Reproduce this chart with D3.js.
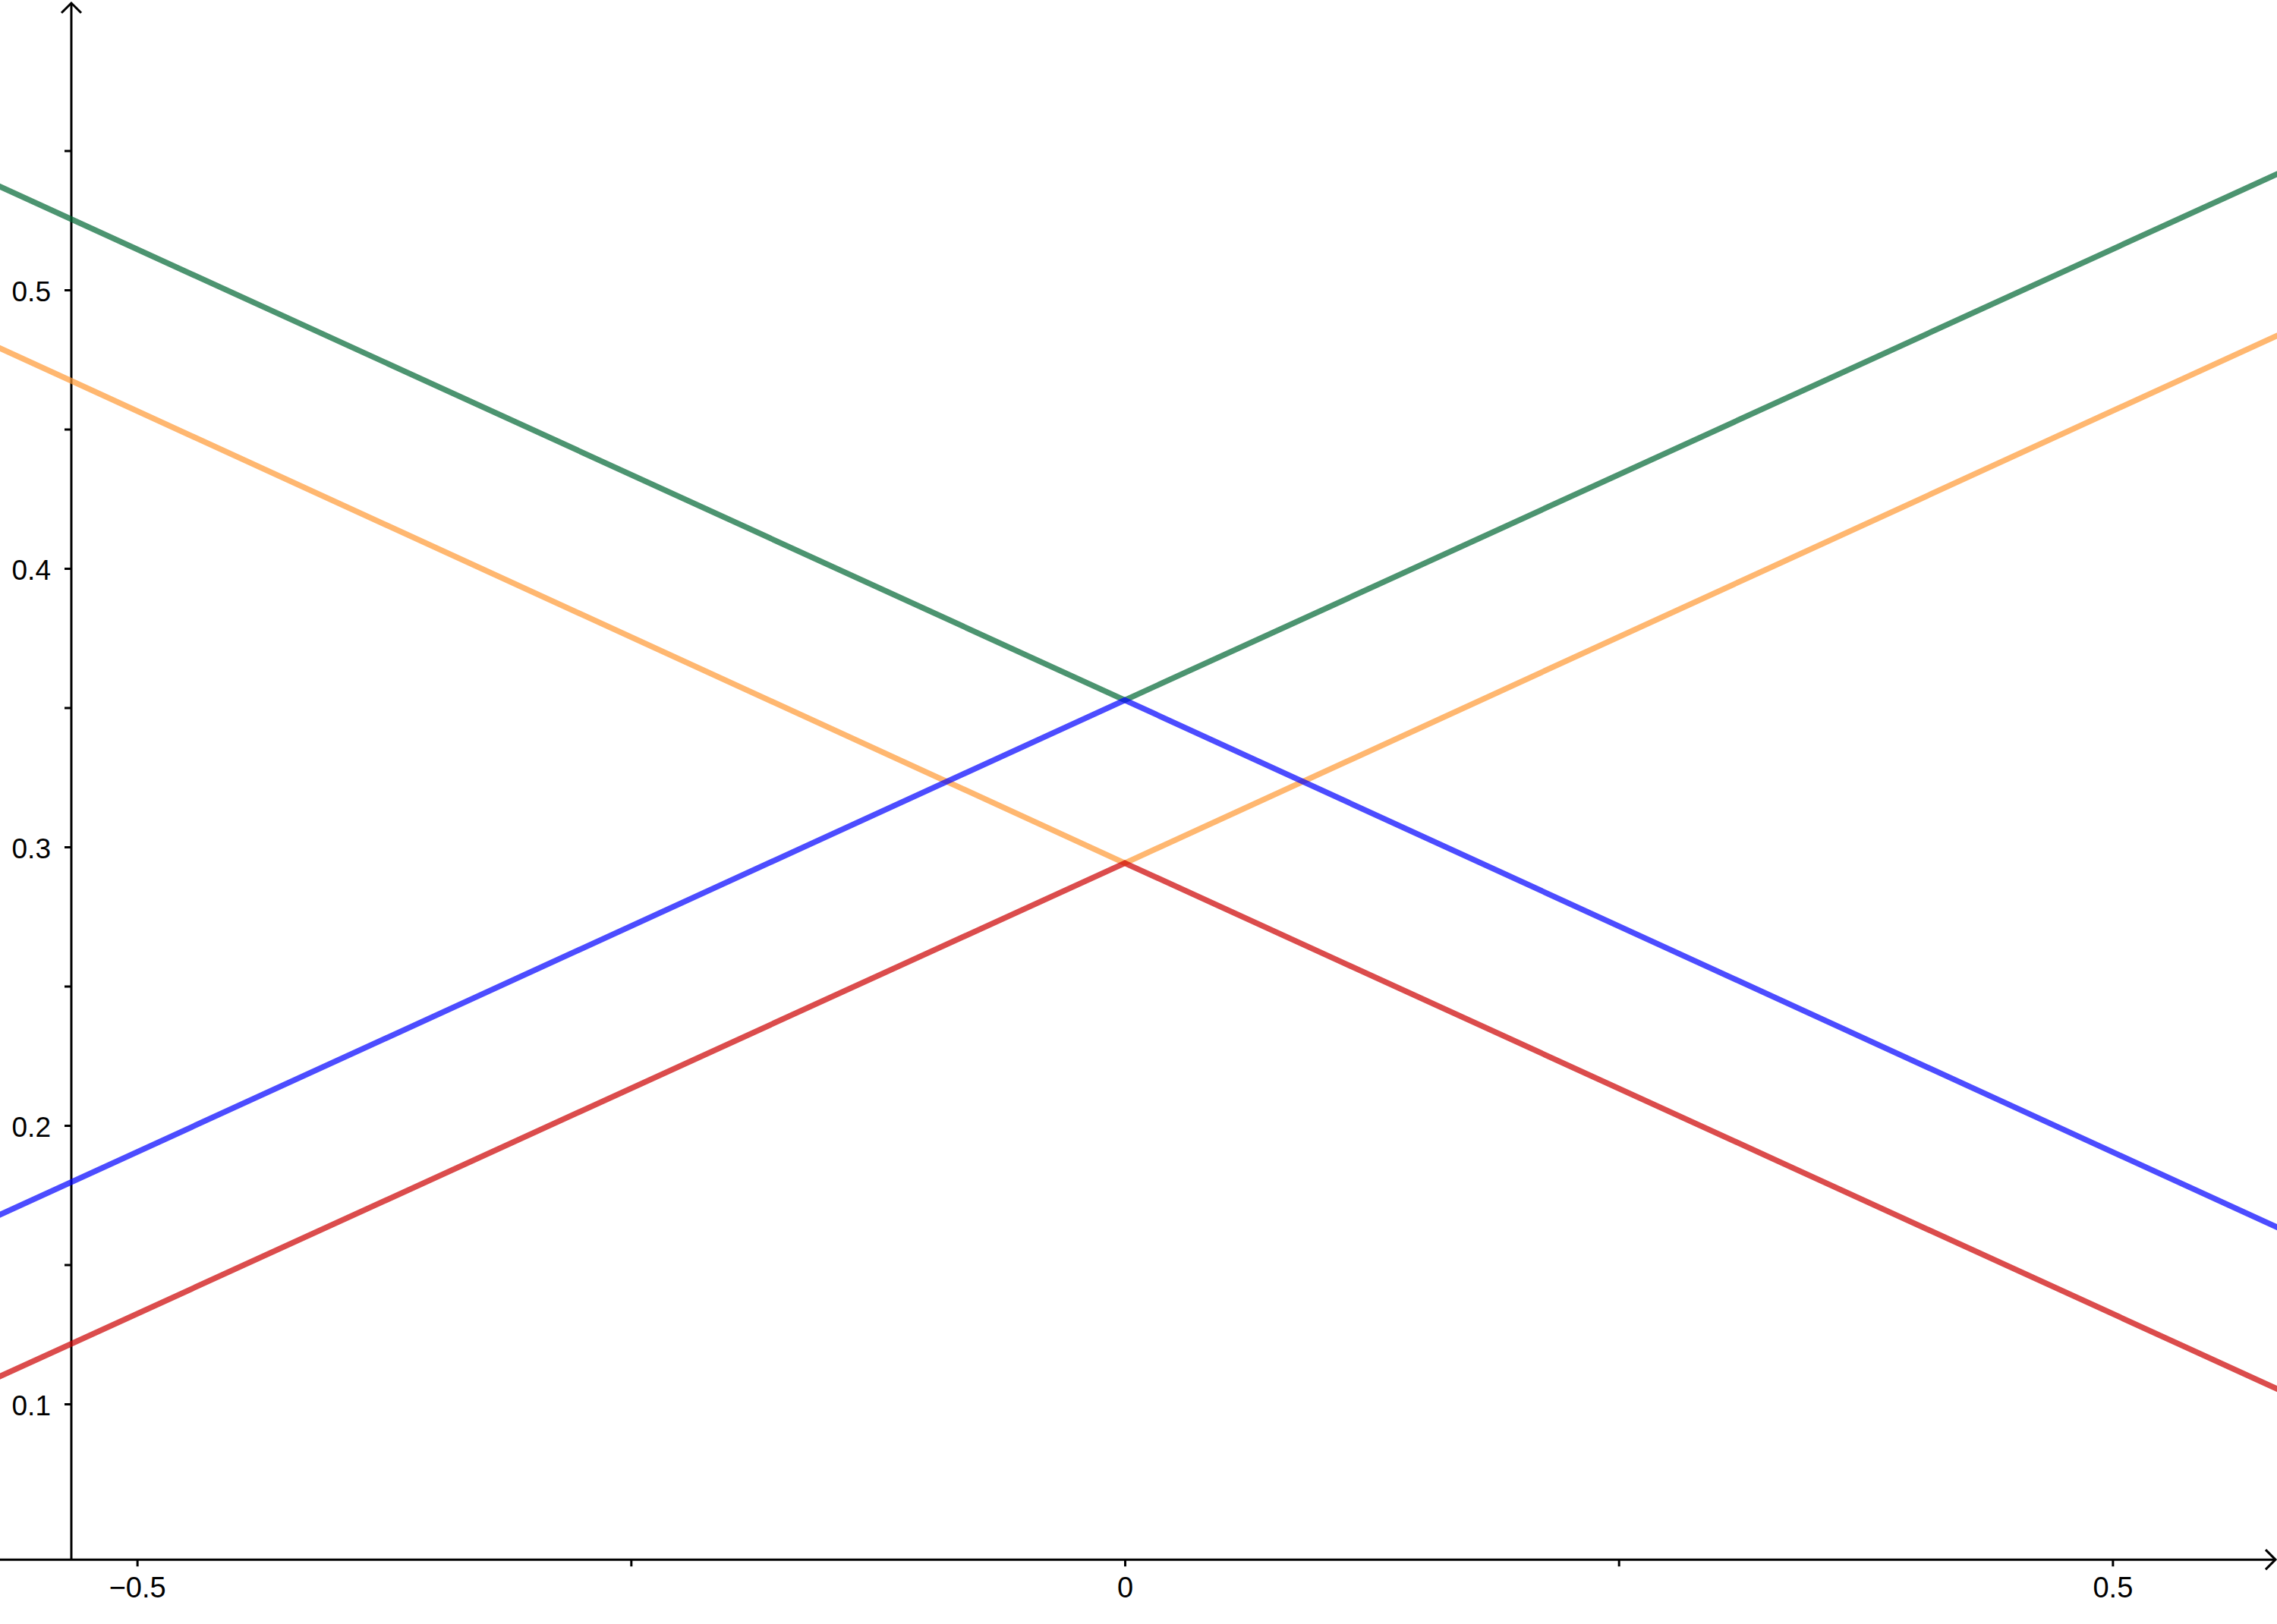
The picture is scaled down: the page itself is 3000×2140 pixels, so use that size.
<!DOCTYPE html>
<html>
<head>
<meta charset="utf-8">
<script src="https://cdn.jsdelivr.net/npm/d3@7"></script>
<style>
  html, body { margin: 0; padding: 0; background: #ffffff; }
  #viz { width: 3000px; height: 2140px; overflow: hidden; }
</style>
</head>
<body>
<div id="viz"></div>
<script>

// values (V-shapes meeting at x = 0)
const xValues = [-0.6, 0, 0.6]
const greenValues = [0.547, 0.3527, 0.547]
const blueValues = [0.158, 0.3527, 0.158]
const orangeValues = [0.489, 0.2942, 0.489]
const redValues = [0.100, 0.2942, 0.100]

const xMajorTicks = [-0.5, 0, 0.5]
const xMinorTicks = [-0.25, 0.25]
const yMajorTicks = [0.1, 0.2, 0.3, 0.4, 0.5]
const yMinorTicks = [0.15, 0.25, 0.35, 0.45, 0.55]

document.addEventListener("DOMContentLoaded", () => {

  const width = 3000
  const height = 2140

  const svg = d3.select("#viz").append("svg")
  .attr("width", width)
  .attr("height", height)
  .style("background-color", "#ffffff")

  const x = d3.scaleLinear()
  .domain([-1482 / 2602.7, (width - 1482) / 2602.7])
  .range([0, width])

  const y = d3.scaleLinear()
  .domain([(2217 - height) / 3670, 2217 / 3670])
  .range([height, 0])

  // axes stick to the view edges
  const axisY = 0.0441
  const axisX = -0.5333

  const fontFamily = "'Liberation Sans', Arial, sans-serif"

  // ticks
  const xAxis = svg.append("g")
  .attr("transform", "translate(0," + y(axisY) + ")")
  .call(d3.axisBottom(x).tickValues(xMajorTicks).tickSize(9).tickPadding(14).tickSizeOuter(0)
    .tickFormat(d3.format("")))

  const xMinor = svg.append("g")
  .attr("transform", "translate(0," + y(axisY) + ")")
  .call(d3.axisBottom(x).tickValues(xMinorTicks).tickSize(9).tickFormat(""))

  const yAxis = svg.append("g")
  .attr("transform", "translate(" + x(axisX) + ",0)")
  .call(d3.axisLeft(y).tickValues(yMajorTicks).tickSize(9).tickPadding(18)
    .tickFormat(d3.format("")))

  const yMinor = svg.append("g")
  .attr("transform", "translate(" + x(axisX) + ",0)")
  .call(d3.axisLeft(y).tickValues(yMinorTicks).tickSize(9).tickFormat(""))

  svg.selectAll(".domain").remove()

  svg.selectAll(".tick line")
  .attr("stroke", "#000000")
  .attr("stroke-width", 3)

  xAxis.selectAll("text")
  .attr("font-size", 38)
  .attr("font-family", fontFamily)
  .attr("fill", "#000000")

  yAxis.selectAll("text")
  .attr("font-size", 37)
  .attr("font-family", fontFamily)
  .attr("fill", "#000000")
  .attr("dy", "0.38em")

  // axis lines with open arrow heads
  svg.append("line")
  .attr("x1", 0)
  .attr("x2", width - 2)
  .attr("y1", y(axisY))
  .attr("y2", y(axisY))
  .attr("stroke", "#000000")
  .attr("stroke-width", 3)

  svg.append("path")
  .attr("d", "M" + (width - 15) + "," + (y(axisY) - 13) + "L" + (width - 2) + "," + y(axisY) + "L" + (width - 15) + "," + (y(axisY) + 13))
  .attr("fill", "none")
  .attr("stroke", "#000000")
  .attr("stroke-width", 3)

  svg.append("line")
  .attr("x1", x(axisX))
  .attr("x2", x(axisX))
  .attr("y1", y(axisY))
  .attr("y2", 4)
  .attr("stroke", "#000000")
  .attr("stroke-width", 3)

  svg.append("path")
  .attr("d", "M" + (x(axisX) - 13) + ",17L" + x(axisX) + ",4L" + (x(axisX) + 13) + ",17")
  .attr("fill", "none")
  .attr("stroke", "#000000")
  .attr("stroke-width", 3)

  // curves
  const series = [
    { name: "green", color: "#006633", values: greenValues },
    { name: "orange", color: "#ff9933", values: orangeValues },
    { name: "blue", color: "#0000ff", values: blueValues },
    { name: "red", color: "#cc0000", values: redValues }
  ]

  const lineGenerator = d3.line()
  .x((d, i) => x(xValues[i]))
  .y(d => y(d))

  svg.selectAll(".curve")
  .data(series)
  .enter()
  .append("path")
  .attr("class", "curve")
  .attr("d", d => lineGenerator(d.values))
  .attr("fill", "none")
  .attr("stroke", d => d.color)
  .attr("stroke-opacity", 0.7)
  .attr("stroke-width", 7.5)
  .attr("stroke-linejoin", "miter")

})
</script>
</body>
</html>
